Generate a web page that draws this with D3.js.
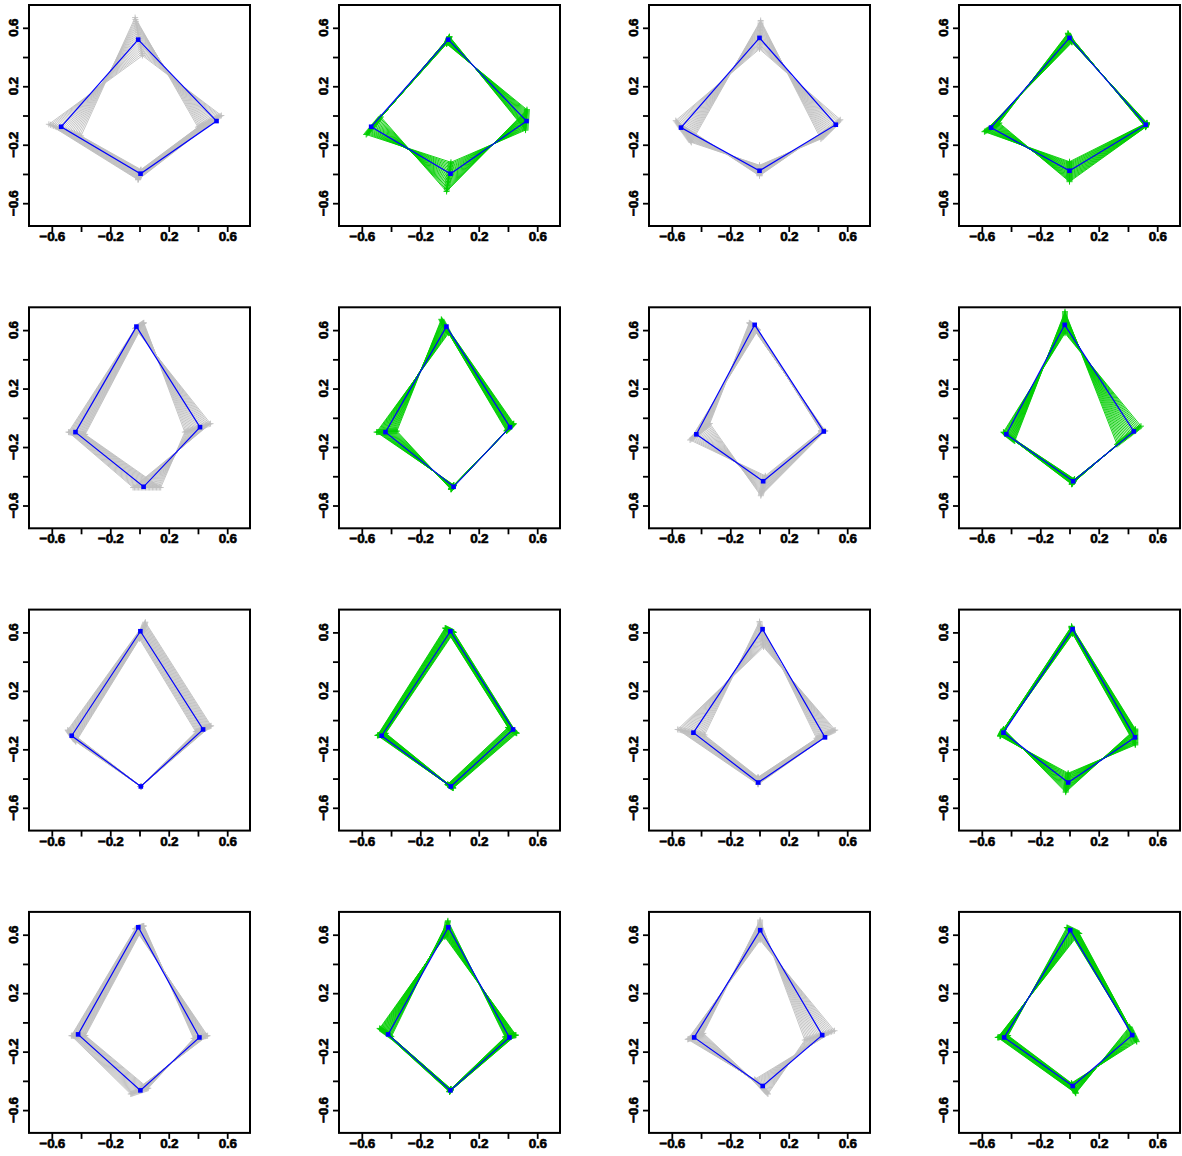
<!DOCTYPE html>
<html>
<head>
<meta charset="utf-8">
<script src="https://cdn.jsdelivr.net/npm/d3@7"></script>
<style>
  html, body { margin: 0; padding: 0; background: #ffffff; }
  svg { display: block; }
</style>
</head>
<body>
<svg id="chart" width="1182" height="1156"></svg>
<script>
// ---------------- DATA ----------------
// axis ticks
const tickValues = [-0.6, -0.4, -0.2, 0, 0.2, 0.4, 0.6];
const tickLabels = ["\u22120.6", "", "\u22120.2", "", "0.2", "", "0.6"];
const axisLimits = [-0.7, 0.7];

// landmark order: top, right, bottom, left (16 panels, row by row)
const meanShapes = [
  [[-0.009, 0.519], [0.527, -0.038], [0.007, -0.398], [-0.536, -0.077]],
  [[-0.009, 0.519], [0.527, -0.038], [0.007, -0.398], [-0.536, -0.077]],
  [[0.000, 0.531], [0.522, -0.063], [0.000, -0.378], [-0.537, -0.083]],
  [[0.000, 0.531], [0.522, -0.063], [0.000, -0.378], [-0.537, -0.083]],
  [[-0.021, 0.624], [0.414, -0.064], [0.028, -0.472], [-0.438, -0.098]],
  [[-0.021, 0.624], [0.414, -0.064], [0.028, -0.472], [-0.438, -0.098]],
  [[-0.033, 0.636], [0.440, -0.093], [0.025, -0.434], [-0.432, -0.113]],
  [[-0.033, 0.636], [0.440, -0.093], [0.025, -0.434], [-0.432, -0.113]],
  [[0.006, 0.608], [0.435, -0.064], [0.009, -0.454], [-0.464, -0.107]],
  [[0.006, 0.608], [0.435, -0.064], [0.009, -0.454], [-0.464, -0.107]],
  [[0.021, 0.622], [0.448, -0.118], [-0.009, -0.427], [-0.452, -0.086]],
  [[0.021, 0.622], [0.448, -0.118], [-0.009, -0.427], [-0.452, -0.086]],
  [[-0.008, 0.651], [0.410, -0.103], [0.006, -0.465], [-0.420, -0.082]],
  [[-0.008, 0.651], [0.410, -0.103], [0.006, -0.465], [-0.420, -0.082]],
  [[0.005, 0.631], [0.429, -0.087], [0.022, -0.435], [-0.447, -0.103]],
  [[0.005, 0.631], [0.429, -0.087], [0.022, -0.435], [-0.447, -0.103]]
];

// shape at one extreme of the variation
const fanStart = [
  [[0.020, 0.410], [0.560, 0.000], [-0.010, -0.440], [-0.620, -0.060]],
  [[-0.020, 0.490], [0.530, 0.040], [-0.020, -0.520], [-0.470, -0.010]],
  [[0.000, 0.455], [0.553, -0.029], [0.000, -0.413], [-0.573, -0.035]],
  [[0.017, 0.500], [0.530, -0.050], [0.000, -0.316], [-0.582, -0.111]],
  [[-0.030, 0.610], [0.486, -0.040], [-0.044, -0.477], [-0.486, -0.098]],
  [[-0.006, 0.579], [0.390, -0.090], [0.030, -0.460], [-0.499, -0.098]],
  [[-0.010, 0.600], [0.420, -0.090], [0.040, -0.397], [-0.475, -0.152]],
  [[-0.031, 0.579], [0.489, -0.057], [0.035, -0.420], [-0.452, -0.098]],
  [[0.000, 0.556], [0.385, -0.080], [0.009, -0.454], [-0.435, -0.148]],
  [[-0.030, 0.630], [0.400, -0.050], [-0.014, -0.440], [-0.493, -0.105]],
  [[0.028, 0.500], [0.518, -0.068], [-0.010, -0.440], [-0.560, -0.064]],
  [[0.014, 0.642], [0.450, -0.061], [-0.026, -0.493], [-0.450, -0.061]],
  [[-0.030, 0.640], [0.466, -0.091], [-0.060, -0.490], [-0.466, -0.091]],
  [[-0.032, 0.585], [0.455, -0.087], [0.000, -0.475], [-0.478, -0.041]],
  [[0.004, 0.563], [0.513, -0.057], [-0.033, -0.390], [-0.491, -0.116]],
  [[0.067, 0.608], [0.410, -0.030], [0.043, -0.485], [-0.491, -0.103]]
];

// shape at the other extreme of the variation
const fanEnd = [
  [[-0.030, 0.670], [0.400, -0.080], [0.010, -0.370], [-0.400, -0.140]],
  [[0.000, 0.540], [0.520, -0.100], [0.010, -0.320], [-0.570, -0.130]],
  [[0.008, 0.650], [0.420, -0.161], [0.000, -0.340], [-0.466, -0.184]],
  [[-0.011, 0.563], [0.520, -0.080], [0.000, -0.453], [-0.480, -0.051]],
  [[0.030, 0.650], [0.310, -0.098], [0.145, -0.477], [-0.372, -0.114]],
  [[-0.056, 0.674], [0.440, -0.040], [0.010, -0.490], [-0.360, -0.091]],
  [[-0.070, 0.650], [0.450, -0.090], [0.009, -0.533], [-0.340, -0.039]],
  [[-0.031, 0.726], [0.325, -0.182], [0.015, -0.455], [-0.374, -0.159]],
  [[0.040, 0.670], [0.490, -0.039], [0.009, -0.454], [-0.491, -0.068]],
  [[0.030, 0.600], [0.460, -0.090], [0.026, -0.465], [-0.436, -0.090]],
  [[0.000, 0.674], [0.390, -0.125], [-0.010, -0.390], [-0.376, -0.102]],
  [[0.022, 0.590], [0.450, -0.170], [-0.009, -0.363], [-0.475, -0.110]],
  [[0.030, 0.660], [0.370, -0.110], [0.060, -0.450], [-0.370, -0.090]],
  [[-0.011, 0.695], [0.380, -0.100], [0.010, -0.455], [-0.398, -0.098]],
  [[0.004, 0.700], [0.310, -0.121], [0.058, -0.490], [-0.384, -0.075]],
  [[-0.018, 0.649], [0.460, -0.132], [0.013, -0.415], [-0.420, -0.090]]
];

// fractions along the variation at which a shape is drawn
const fanSteps = [0, 0.05, 0.1, 0.15, 0.2, 0.25, 0.3, 0.35, 0.4, 0.45, 0.5,
                  0.55, 0.6, 0.65, 0.7, 0.75, 0.8, 0.85, 0.9, 0.95, 1];

// fan colour per panel column
const fanColors = ["#bebebe", "#00cd00", "#bebebe", "#00cd00"];

// ---------------- LAYOUT ----------------
const svg = d3.select("#chart");
const size = 221;
const colLeft = c => 29 + c * 310;
const rowTop = r => 5 + r * 302.3;

const ext = (axisLimits[1] - axisLimits[0]) * 0.04;
const x = d3.scaleLinear().domain([axisLimits[0] - ext, axisLimits[1] + ext]).range([0, size]);
const y = d3.scaleLinear().domain([axisLimits[0] - ext, axisLimits[1] + ext]).range([size, 0]);

const line = d3.line().x(d => x(d[0])).y(d => y(d[1]));

function styleLabel(sel) {
  sel.style("font-family", "'Liberation Sans', Arial, Helvetica, sans-serif")
     .style("font-weight", "bold")
     .style("font-size", "13.5px")
     .style("letter-spacing", "-0.3px")
     .style("fill", "#000")
     .style("stroke", "#000")
     .style("stroke-width", "0.6px");
}

meanShapes.forEach((mean, i) => {
  const r = Math.floor(i / 4), c = i % 4;
  const g = svg.append("g").attr("transform", `translate(${colLeft(c)},${rowTop(r)})`);
  const col = fanColors[c];

  const clip = g.append("clipPath").attr("id", "clip" + i);
  clip.append("rect").attr("width", size).attr("height", size);
  const plot = g.append("g").attr("clip-path", `url(#clip${i})`);

  // fan of shapes
  const s0 = fanStart[i], s1 = fanEnd[i];
  fanSteps.forEach(t => {
    const pts = s0.map((p, k) => [p[0] + t * (s1[k][0] - p[0]), p[1] + t * (s1[k][1] - p[1])]);
    plot.append("path")
      .attr("d", line(pts.concat([pts[0]])))
      .attr("fill", "none").attr("stroke", col).attr("stroke-width", 0.9);
    pts.forEach(p => {
      const px = x(p[0]), py = y(p[1]), a = 3;
      plot.append("path")
        .attr("d", `M${px - a},${py}H${px + a}M${px},${py - a}V${py + a}`)
        .attr("stroke", col).attr("stroke-width", 0.9);
    });
  });

  // mean shape
  plot.append("path")
    .attr("d", line(mean.concat([mean[0]])))
    .attr("fill", "none").attr("stroke", "#0000ff").attr("stroke-width", 1.2);
  plot.selectAll("rect.pt").data(mean).enter().append("rect")
    .attr("x", d => x(d[0]) - 2.3).attr("y", d => y(d[1]) - 2.3)
    .attr("width", 4.6).attr("height", 4.6).attr("fill", "#0000ff");

  // axes
  const xa = g.append("g").attr("transform", `translate(0,${size})`)
    .call(d3.axisBottom(x).tickValues(tickValues).tickSize(6).tickPadding(-0.5)
      .tickFormat((d, k) => tickLabels[k]));
  const ya = g.append("g")
    .call(d3.axisLeft(y).tickValues(tickValues).tickSize(6).tickFormat(() => ""));
  [xa, ya].forEach(a => {
    a.attr("font-size", null).attr("font-family", null);
    a.select(".domain").remove();
    a.selectAll("line").attr("stroke", "#000").attr("stroke-width", 1.8);
    styleLabel(a.selectAll("text"));
  });
  tickValues.forEach((v, k) => {
    if (!tickLabels[k]) return;
    const t = g.append("text")
      .attr("text-anchor", "middle")
      .attr("transform", `translate(-11.5,${y(v)}) rotate(-90)`)
      .text(tickLabels[k]);
    styleLabel(t);
  });

  // frame
  g.append("rect").attr("width", size).attr("height", size)
    .attr("fill", "none").attr("stroke", "#000").attr("stroke-width", 2);
});
</script>
</body>
</html>
